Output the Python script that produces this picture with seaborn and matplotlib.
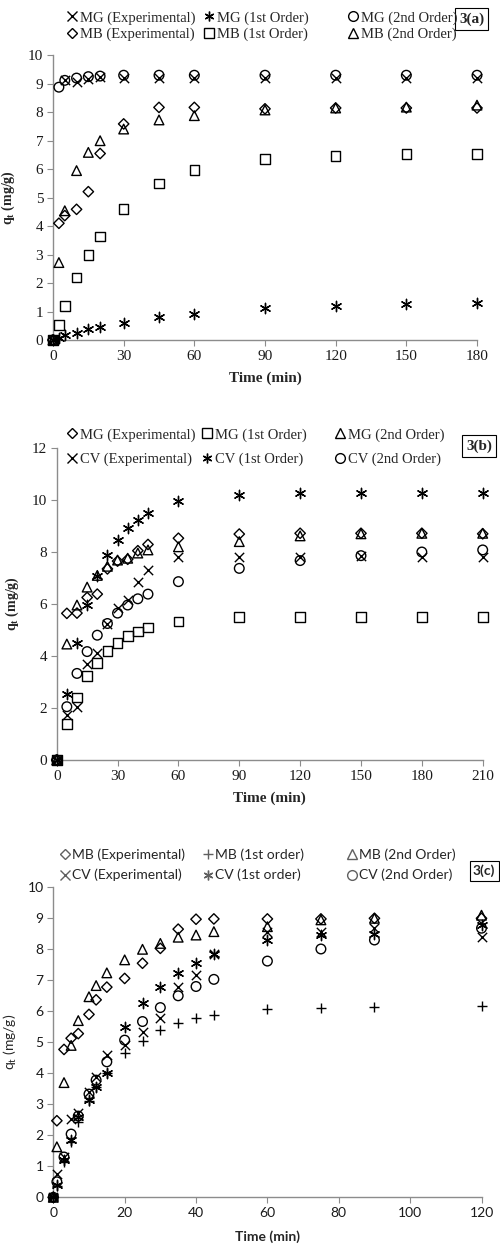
import matplotlib
matplotlib.use("Agg")
import matplotlib.pyplot as plt
from matplotlib.lines import Line2D
import seaborn as sns
import numpy as np
import pandas as pd

sns.set_theme(style="ticks")

W, H = 500, 1247

# ---- 3(a): MG / MB kinetics ----
time_a = [0, 2.5, 5, 10, 15, 20, 30, 45, 60, 90, 120, 150, 180]
mg_exp_a = [0, np.nan, 9.12, 9.05, 9.18, 9.25, 9.22, 9.22, 9.22, 9.22, 9.22, 9.22, 9.22]
mg_1st_a = [0, 0.08, 0.17, 0.25, 0.37, 0.46, 0.6, 0.82, 0.92, 1.11, 1.2, 1.26, 1.29]
mg_2nd_a = [0, 8.88, 9.12, 9.2, 9.25, 9.27, 9.3, 9.3, 9.3, 9.3, 9.3, 9.3, 9.3]
mb_exp_a = [0, 4.1, 4.37, 4.59, 5.21, 6.55, 7.59, 8.17, 8.17, 8.12, 8.15, 8.15, 8.15]
mb_1st_a = [0, 0.53, 1.2, 2.19, 2.99, 3.63, 4.6, 5.5, 5.97, 6.36, 6.47, 6.53, 6.53]
mb_2nd_a = [0, 2.72, 4.54, 5.95, 6.59, 7.0, 7.41, 7.73, 7.88, 8.08, 8.15, 8.18, 8.25]

# ---- 3(b): MG / CV kinetics ----
time_b = [0, 5, 10, 15, 20, 25, 30, 35, 40, 45, 60, 90, 120, 150, 180, 210]
mg_exp_b = [0, 5.64, 5.65, 6.25, 6.38, 7.35, 7.65, 7.72, 8.05, 8.29, 8.53, 8.69, 8.72, 8.72, 8.72, 8.7]
mg_1st_b = [0, 1.38, 2.41, 3.23, 3.74, 4.2, 4.51, 4.77, 4.94, 5.1, 5.32, 5.49, 5.5, 5.5, 5.5, 5.5]
mg_2nd_b = [0, 4.46, 5.96, 6.65, 7.1, 7.45, 7.69, 7.76, 7.96, 8.08, 8.2, 8.4, 8.62, 8.7, 8.72, 8.72]
cv_exp_b = [0, 1.73, 2.03, 3.69, 4.1, 5.23, 5.83, 6.15, 6.84, 7.29, 7.82, 7.82, 7.82, 7.85, 7.8, 7.8]
cv_1st_b = [0, 2.54, 4.51, 5.98, 7.08, 7.88, 8.46, 8.92, 9.25, 9.5, 9.95, 10.2, 10.26, 10.26, 10.26, 10.26]
cv_2nd_b = [0, 2.05, 3.33, 4.17, 4.8, 5.25, 5.65, 5.96, 6.2, 6.38, 6.86, 7.37, 7.67, 7.86, 8.0, 8.08]

# ---- 3(c): MB / CV kinetics ----
time_c = [0, 1, 3, 5, 7, 10, 12, 15, 20, 25, 30, 35, 40, 45, 60, 75, 90, 120]
mb_exp_c = [0, 2.47, 4.77, 5.13, 5.28, 5.9, 6.37, 6.78, 7.06, 7.55, 8.03, 8.65, 8.97, 8.98, 8.98, 8.98, 9.0, 9.0]
mb_1st_c = [0, 0.35, 1.15, 1.8, 2.44, 3.12, 3.55, 4.0, 4.65, 5.05, 5.4, 5.61, 5.77, 5.88, 6.06, 6.12, 6.15, 6.18]
mb_2nd_c = [0, 1.63, 3.7, 4.9, 5.7, 6.47, 6.83, 7.24, 7.66, 8.0, 8.19, 8.39, 8.46, 8.57, 8.73, 8.95, 9.0, 9.1]
cv_exp_c = [0, 0.75, 1.3, 2.52, 2.73, 3.41, 3.89, 4.59, 4.9, 5.34, 5.77, 6.8, 7.17, 7.85, 8.55, 8.55, 8.7, 8.4]
cv_1st_c = [0, 0.4, 1.2, 1.85, 2.6, 3.15, 3.55, 4.0, 5.5, 6.28, 6.8, 7.23, 7.55, 7.84, 8.3, 8.46, 8.5, 8.8]
cv_2nd_c = [0, 0.5, 1.3, 2.04, 2.62, 3.33, 3.78, 4.37, 5.07, 5.67, 6.12, 6.5, 6.8, 7.03, 7.62, 8.01, 8.3, 8.68]

ASTER = (6, 2, 0)
# marker -> scatter size
SIZES = {"x": 45, "+": 60, ASTER: 55, "o": 48, "s": 48, "D": 28, "^": 48}
LINE_ART = ("x", "+", ASTER)
SPINE = "#8c8c8c"


def px_box(left, right, top, bottom):
    return [left / W, 1 - bottom / H, (right - left) / W, (bottom - top) / H]


def draw_series(ax, t, q, marker):
    df = pd.DataFrame({"t": t, "q": q}).dropna()
    if marker in LINE_ART:
        sns.scatterplot(data=df, x="t", y="q", ax=ax, marker=marker, color="black",
                        s=SIZES[marker], linewidth=1.0, legend=False, zorder=3, clip_on=False)
    else:
        sns.scatterplot(data=df, x="t", y="q", ax=ax, marker=marker, facecolor="none",
                        edgecolor="black", s=SIZES[marker], linewidth=1.0, legend=False,
                        zorder=3, clip_on=False)


def handle(marker, color="black"):
    ms = {"x": 6.5, "+": 7.5, ASTER: 7, "o": 7, "s": 7, "D": 5, "^": 7}[marker]
    return Line2D([], [], marker=marker, linestyle="none", markersize=ms,
                  markerfacecolor="none", markeredgecolor=color, color=color, markeredgewidth=1.0)


def style_axes(ax, xticks, yticks, xlim, ylim, fam, fs):
    ax.set_xlim(*xlim)
    ax.set_ylim(*ylim)
    ax.set_xticks(xticks)
    ax.set_yticks(yticks)
    sns.despine(ax=ax)
    for s in ("left", "bottom"):
        ax.spines[s].set_color(SPINE)
        ax.spines[s].set_linewidth(1.0)
    ax.tick_params(direction="out", length=4, width=0.8, color=SPINE, labelsize=fs, pad=3)
    for lab in ax.get_xticklabels() + ax.get_yticklabels():
        lab.set_fontfamily(fam)
        lab.set_color("#1a1a1a")
    ax.set_facecolor("white")


def col_legend(fig, entries, x_px, y_px, fam, fs, spacing):
    hs = [h for h, _ in entries]
    ls = [l for _, l in entries]
    fig.legend(hs, ls, loc="center left", bbox_to_anchor=(x_px / W, 1 - y_px / H),
               frameon=False, borderpad=0, borderaxespad=0, handlelength=0.8,
               handletextpad=0.15, labelspacing=spacing,
               prop={"family": fam, "size": fs})


def tag(fig, x_px, y_px, text, fam, fs):
    fig.text(x_px / W, 1 - y_px / H, text, fontfamily=fam, fontsize=fs, fontweight="bold",
             ha="left", va="center", zorder=5,
             bbox=dict(boxstyle="square,pad=0.25", fc="white", ec="black", lw=0.8))


fig = plt.figure(figsize=(W / 100, H / 100), dpi=100)
fig.patch.set_facecolor("white")

SERIF = "Liberation Serif"
SANS = "Lato"

# panel a
ax = fig.add_axes(px_box(53, 477, 55.3, 340))
for t, q, m in [(time_a, mg_exp_a, "x"), (time_a, mg_1st_a, ASTER), (time_a, mg_2nd_a, "o"),
                (time_a, mb_exp_a, "D"), (time_a, mb_1st_a, "s"), (time_a, mb_2nd_a, "^")]:
    draw_series(ax, t, q, m)
style_axes(ax, range(0, 181, 30), range(0, 11), (0, 180), (0, 10), SERIF, 11)
ax.set_xlabel("Time (min)", fontfamily=SERIF, fontsize=11, fontweight="bold", labelpad=6)
ax.set_ylabel(r"q$_\mathregular{t}$ (mg/g)", fontfamily=SERIF, fontsize=10, fontweight="bold", labelpad=8)
col_legend(fig, [(handle("x"), "MG (Experimental)"), (handle("D"), "MB (Experimental)")], 66, 26, SERIF, 10.5, 0.2)
col_legend(fig, [(handle(ASTER), "MG (1st Order)"), (handle("s"), "MB (1st Order)")], 203, 26, SERIF, 10.5, 0.2)
col_legend(fig, [(handle("o"), "MG (2nd Order)"), (handle("^"), "MB (2nd Order)")], 347, 26, SERIF, 10.5, 0.2)
tag(fig, 459, 19, "3(a)", SERIF, 11)

# panel b
ax = fig.add_axes(px_box(56.7, 482.7, 448, 760))
for t, q, m in [(time_b, mg_exp_b, "D"), (time_b, mg_1st_b, "s"), (time_b, mg_2nd_b, "^"),
                (time_b, cv_exp_b, "x"), (time_b, cv_1st_b, ASTER), (time_b, cv_2nd_b, "o")]:
    draw_series(ax, t, q, m)
style_axes(ax, range(0, 211, 30), range(0, 13, 2), (0, 210), (0, 12), SERIF, 11)
ax.set_xlabel("Time (min)", fontfamily=SERIF, fontsize=11, fontweight="bold", labelpad=6)
ax.set_ylabel(r"q$_\mathregular{t}$ (mg/g)", fontfamily=SERIF, fontsize=10, fontweight="bold", labelpad=8)
col_legend(fig, [(handle("D"), "MG (Experimental)"), (handle("x"), "CV (Experimental)")], 66, 447, SERIF, 10.5, 0.75)
col_legend(fig, [(handle("s"), "MG (1st Order)"), (handle(ASTER), "CV (1st Order)")], 201, 447, SERIF, 10.5, 0.75)
col_legend(fig, [(handle("^"), "MG (2nd Order)"), (handle("o"), "CV (2nd Order)")], 334, 447, SERIF, 10.5, 0.75)
tag(fig, 466, 446, "3(b)", SERIF, 11)

# panel c
ax = fig.add_axes(px_box(53.3, 481.5, 887.3, 1197.3))
for t, q, m in [(time_c, mb_exp_c, "D"), (time_c, mb_1st_c, "+"), (time_c, mb_2nd_c, "^"),
                (time_c, cv_exp_c, "x"), (time_c, cv_1st_c, ASTER), (time_c, cv_2nd_c, "o")]:
    draw_series(ax, t, q, m)
style_axes(ax, range(0, 121, 20), range(0, 11), (0, 120), (0, 10), SANS, 10)
ax.set_xlabel("Time (min)", fontfamily=SANS, fontsize=10, fontweight="bold", labelpad=8)
ax.set_ylabel(r"q$_\mathregular{t}$ (mg/g)", fontfamily=SANS, fontsize=10, labelpad=6)
G = "#606060"
col_legend(fig, [(handle("D", G), "MB (Experimental)"), (handle("x", G), "CV (Experimental)")], 59, 865, SANS, 10, 0.55)
col_legend(fig, [(handle("+", G), "MB (1st order)"), (handle(ASTER, G), "CV (1st order)")], 202, 865, SANS, 10, 0.55)
col_legend(fig, [(handle("^", G), "MB (2nd Order)"), (handle("o", G), "CV (2nd Order)")], 346, 865, SANS, 10, 0.55)
tag(fig, 473, 871, "3(c)", SANS, 10)

fig.savefig("out.png", dpi=100, facecolor="white")
